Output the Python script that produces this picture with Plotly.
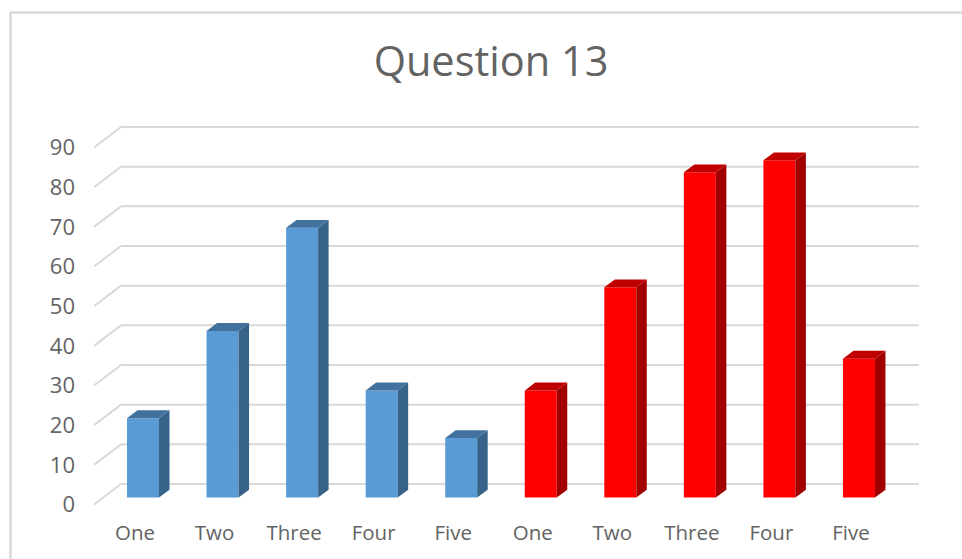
import plotly.graph_objects as go

# Data
categories = ["One", "Two", "Three", "Four", "Five", "One", "Two", "Three", "Four", "Five"]
series_a = [20, 42, 68, 27, 15]
series_b = [27, 53, 82, 85, 35]
y_ticks = [0, 10, 20, 30, 40, 50, 60, 70, 80, 90]
title_text = "Question 13"

# Colours
grey_text = "#636363"
grid_color = "#D9D9D9"
frame_color = "#D9D9D9"
blue = dict(front="#5B9BD5", side="#376389", top="#41719C")
red = dict(front="#FF0000", side="#A00000", top="#C00000")

# Layout geometry in pixels
W, H = 962, 559
L, R, T, B = 94, 919, 120, 510
BASE_PX = 497.5          # bar baseline
LABEL_ZERO_PX = 504.5    # tick label / front edge of wall for zero
WALL_ZERO_PX = 484       # back wall zero
WALL_LEFT_PX = 121
PX_PER_UNIT = 357 / 90
CAT0_PX, CAT_STEP = 143, 79.55
BAR_W_PX = 32
DEPTH_X_PX, DEPTH_Y_PX = 10.5, 7.8
LABEL_SHIFT_PX = -8

ux = 1 / CAT_STEP
uy = 1 / PX_PER_UNIT
bar_w = BAR_W_PX * ux
dx = DEPTH_X_PX * ux
dy = DEPTH_Y_PX * uy
xr = [(L - CAT0_PX) * ux, (R - CAT0_PX) * ux]
yr = [(BASE_PX - B) * uy, (BASE_PX - T) * uy]
yr2 = [(LABEL_ZERO_PX - B) * uy, (LABEL_ZERO_PX - T) * uy]
wall_dy = (BASE_PX - WALL_ZERO_PX) * uy
front_dy = (BASE_PX - LABEL_ZERO_PX) * uy
wall_left = (WALL_LEFT_PX - CAT0_PX) * ux

values = series_a + series_b
positions = list(range(len(values)))
palette = [blue] * len(series_a) + [red] * len(series_b)

fig = go.Figure()
fig.add_trace(go.Bar(
    x=positions, y=values, width=bar_w,
    marker=dict(color=[p["front"] for p in palette], line=dict(width=0)),
    hoverinfo="skip", showlegend=False,
))

for xp, v, p in zip(positions, values, palette):
    x0, x1 = xp - bar_w / 2, xp + bar_w / 2
    fig.add_trace(go.Scatter(
        x=[x1, x1 + dx, x1 + dx, x1, x1], y=[0, dy, v + dy, v, 0],
        mode="lines", line=dict(width=0), fill="toself", fillcolor=p["side"],
        hoverinfo="skip", showlegend=False,
    ))
    fig.add_trace(go.Scatter(
        x=[x0, x0 + dx, x1 + dx, x1, x0], y=[v, v + dy, v + dy, v, v],
        mode="lines", line=dict(width=0), fill="toself", fillcolor=p["top"],
        hoverinfo="skip", showlegend=False,
    ))

# Invisible trace that activates the label axis
fig.add_trace(go.Scatter(x=[positions[0]], y=[y_ticks[0]], yaxis="y2", mode="markers",
                         marker=dict(opacity=0), hoverinfo="skip", showlegend=False))

shapes = []
grid_line = dict(color=grid_color, width=2)
for t in y_ticks:
    shapes.append(dict(type="line", layer="below", xref="x", yref="y",
                       x0=wall_left, x1=xr[1], y0=t + wall_dy, y1=t + wall_dy, line=grid_line))
    shapes.append(dict(type="line", layer="below", xref="x", yref="y",
                       x0=xr[0], x1=wall_left, y0=t + front_dy, y1=t + wall_dy, line=grid_line))

def px(v):
    return (v - L) / (R - L)

def py(v):
    return (B - v) / (B - T)

frame = dict(color=frame_color, width=2.5)
shapes.append(dict(type="line", xref="paper", yref="paper", x0=px(10.5), x1=px(10.5), y0=py(12), y1=py(H), line=frame))
shapes.append(dict(type="line", xref="paper", yref="paper", x0=px(10.5), x1=px(W), y0=py(12.5), y1=py(12.5), line=frame))

fig.update_layout(
    width=W, height=H, autosize=False,
    margin=dict(l=L, r=W - R, t=T, b=H - B, pad=0),
    paper_bgcolor="white", plot_bgcolor="rgba(0,0,0,0)",
    font=dict(family="Open Sans", color=grey_text),
    title=dict(text=title_text, font=dict(size=41.5, family="Open Sans", color=grey_text),
               x=491 / W, xanchor="center", xref="container", y=1 - 61 / H, yanchor="middle"),
    xaxis=dict(range=xr, tickmode="array",
               tickvals=[p + LABEL_SHIFT_PX * ux for p in positions], ticktext=categories,
               showgrid=False, zeroline=False, showline=False, ticks="",
               tickfont=dict(size=20.5, color=grey_text), ticklabelstandoff=8),
    yaxis=dict(range=yr, showgrid=False, zeroline=False, showline=False,
               showticklabels=False, ticks=""),
    yaxis2=dict(range=yr2, overlaying="y", side="left", tickmode="array", tickvals=y_ticks,
                showgrid=False, zeroline=False, showline=False, ticks="",
                tickfont=dict(size=22, color=grey_text), ticklabelstandoff=18),
    shapes=shapes,
    showlegend=False,
)

fig.write_html("out.html", config=dict(displayModeBar=False),
               post_script="document.body.style.margin='0';document.body.style.overflow='hidden';")
